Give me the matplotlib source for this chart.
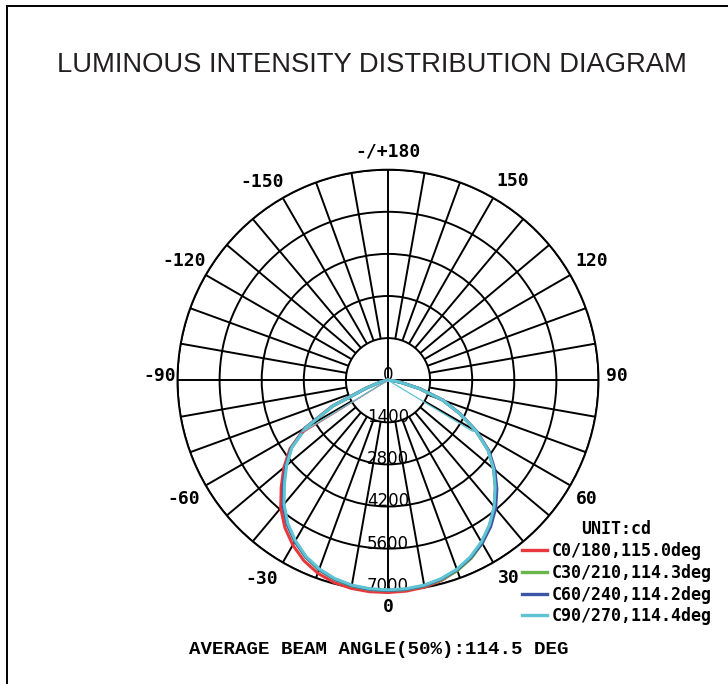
import numpy as np
import matplotlib
matplotlib.use("Agg")
import matplotlib.pyplot as plt
from matplotlib.lines import Line2D

# ---------------- data ----------------
gamma_deg = list(range(-90, 95, 5))  # -90 .. 90

series_labels = ["C0/180,115.0deg", "C30/210,114.3deg", "C60/240,114.2deg", "C90/270,114.4deg"]
series_colors = ["#e8383d", "#6bb54d", "#3b57a3", "#5ec3d2"]

c0_180 = [0, 30, 110, 320, 780, 2050, 3200, 3980, 4520, 5020, 5550, 5980, 6330, 6620, 6830, 6960, 7030, 7060,
          7060,
          7040, 6990, 6890, 6730, 6510, 6230, 5890, 5500, 5050, 4590, 4070, 3390, 2640, 1940, 1100, 450, 150, 0]
c30_210 = [0, 30, 100, 300, 760, 2010, 3160, 3920, 4430, 4900, 5410, 5840, 6190, 6490, 6710, 6860, 6950, 6990,
           7000,
           6990, 6950, 6870, 6740, 6540, 6270, 5920, 5520, 5060, 4590, 4070, 3390, 2640, 1940, 1100, 450, 150, 0]
c60_240 = [0, 30, 100, 300, 760, 2020, 3170, 3930, 4440, 4920, 5430, 5850, 6190, 6480, 6700, 6850, 6940, 6980,
           6990,
           6980, 6940, 6850, 6710, 6510, 6260, 5950, 5570, 5120, 4640, 4100, 3400, 2650, 1950, 1100, 450, 150, 0]
c90_270 = [0, 30, 100, 300, 750, 2000, 3150, 3900, 4400, 4870, 5380, 5810, 6160, 6460, 6680, 6830, 6920, 6960,
           6970,
           6960, 6920, 6830, 6690, 6480, 6210, 5880, 5490, 5040, 4580, 4060, 3380, 2630, 1930, 1090, 440, 150, 0]
series_values = [c0_180, c30_210, c60_240, c90_270]

# thin chord segments from the centre (series index, angle, intensity)
chord_series = [0, 3, 3]
chord_gamma = [-58.4, -58.8, 58.9]
chord_value = [3350, 3300, 3300]

ring_values = [1400, 2800, 4200, 5600, 7000]
ring_labels = ["1400", "2800", "4200", "5600", "7000"]
angle_ticks = [0, 30, 60, 90, 120, 150, 180, -150, -120, -90, -60, -30]
angle_labels = ["0", "30", "60", "90", "120", "150", "-/+180", "-150", "-120", "-90", "-60", "-30"]
r_max = 7000

title = "LUMINOUS INTENSITY DISTRIBUTION DIAGRAM"
unit_text = "UNIT:cd"
footer = "AVERAGE BEAM ANGLE(50%):114.5 DEG"

# label placement style (radius in data units, small angular nudge in degrees)
label_radius = [7550, 7700, 7700, 7600, 7850, 7820, 7600, 7820, 7870, 7600, 7870, 7820]
label_nudge = [0, 1.3, -0.9, 1.0, 0.4, -2.1, 0, 2.4, -0.3, -1.0, 0.2, -2.5]

# ---------------- figure ----------------
W, H = 728, 684
fig = plt.figure(figsize=(W / 100, H / 100), dpi=100)
fig.patch.set_facecolor("white")

cx, cy, R = 388.0, 380.2, 210.5
ax = fig.add_axes([(cx - R) / W, (H - cy - R) / H, 2 * R / W, 2 * R / H], projection="polar")
ax.set_theta_zero_location("S")
ax.set_theta_direction(1)
ax.set_ylim(0, r_max)
ax.set_facecolor("white")

# rings
ax.set_yticks(ring_values)
ax.set_yticklabels([])
ax.set_xticks([])
ax.yaxis.grid(True, color="black", lw=1.4)
ax.xaxis.grid(False)
ax.spines["polar"].set_linewidth(1.4)
ax.spines["polar"].set_color("black")

# spokes
spokes = np.deg2rad(np.arange(0, 360, 10))
ax.vlines(spokes, ring_values[0], r_max, colors="black", lw=1.4, zorder=1)
ax.vlines(np.deg2rad([0, 90, 180, 270]), 0, ring_values[0], colors="black", lw=1.4, zorder=1)

# ring labels
ax.text(0, 0, "0", ha="center", va="baseline", fontsize=12, family="DejaVu Sans", zorder=2)
for rv, rl in zip(ring_values, ring_labels):
    ax.text(0, rv, rl, ha="center", va="baseline", fontsize=12, family="DejaVu Sans", zorder=2)

# angle labels
for a, lab, rr, nd in zip(angle_ticks, angle_labels, label_radius, label_nudge):
    ax.text(np.deg2rad(a + nd), rr, lab, ha="center", va="center", fontsize=13,
            family="DejaVu Sans Mono", fontweight="bold", clip_on=False)

# curves
th = np.deg2rad(gamma_deg)
handles = []
for vals, col, lab in zip(series_values, series_colors, series_labels):
    ln, = ax.plot(th, vals, color=col, lw=2.2, label=lab, clip_on=False, zorder=3,
                  solid_joinstyle="round")
    handles.append(ln)
for si, g, v in zip(chord_series, chord_gamma, chord_value):
    ax.plot([np.deg2rad(g), np.deg2rad(g)], [0, v], color=series_colors[si], lw=0.9, zorder=3)

leg = ax.legend(handles=handles, loc="upper left", bbox_to_anchor=(521.5 / W, (H - 520.5) / H),
                bbox_transform=fig.transFigure, frameon=False, title=unit_text,
                prop={"family": "DejaVu Sans Mono", "weight": "bold", "size": 12},
                title_fontproperties={"family": "DejaVu Sans Mono", "weight": "bold", "size": 12},
                handlelength=1.5, handletextpad=0.3, labelspacing=0.22, borderpad=0,
                borderaxespad=0)
for lh in leg.get_lines():
    lh.set_linewidth(2.4)

# title and footer
fig.text(371.7 / W, (H - 71.7) / H, title, ha="center", va="baseline", fontsize=19.7,
         family="Liberation Sans", color="#231f20")
fig.text(378.3 / W, (H - 654.3) / H, footer, ha="center", va="baseline", fontsize=13.8,
         family="Liberation Mono", fontweight="bold")

# frame lines (left and top)
fig.add_artist(Line2D([6.5 / W, 6.5 / W], [0, (H - 6) / H], transform=fig.transFigure, color="black", lw=1.4))
fig.add_artist(Line2D([6.5 / W, 1], [(H - 6) / H, (H - 6) / H], transform=fig.transFigure, color="black", lw=1.4))

fig.savefig("out.png", dpi=100)
